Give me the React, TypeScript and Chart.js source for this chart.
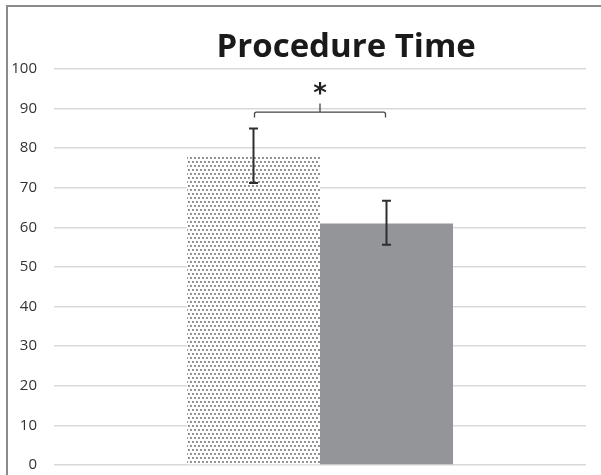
import React, { useEffect, useRef } from "react";
import { Chart, registerables } from "chart.js";

Chart.register(...registerables);

const categories = ["Procedure Time"];
const groupA = [77.9];
const groupB = [61.0];
const errA = [[71.2, 85.0]];
const errB = [[55.6, 66.7]];
const bracketY = 89.1;
const bracketDrop = 88.0;
const bracketTop = 91.3;
const starY = 95.0;
const yTicks = [0, 10, 20, 30, 40, 50, 60, 70, 80, 90, 100];
const titleText = "Procedure Time";

function makePattern(): CanvasPattern | string {
  const c = document.createElement("canvas");
  c.width = 4;
  c.height = 8;
  const g = c.getContext("2d");
  if (!g) return "#ccc";
  g.fillStyle = "#ffffff";
  g.fillRect(0, 0, 4, 8);
  g.fillStyle = "#9a9a9a";
  g.fillRect(0, 1, 2, 2);
  g.fillRect(2, 5, 2, 2);
  g.fillStyle = "#7c7c7c";
  g.fillRect(0, 1, 1, 1);
  g.fillRect(2, 5, 1, 1);
  const p = g.createPattern(c, "repeat");
  return p || "#ccc";
}

const overlay = {
  id: "overlay",
  afterDatasetsDraw(chart: any) {
    const ctx = chart.ctx;
    const y = chart.scales.y;
    const metaA = chart.getDatasetMeta(0);
    const metaB = chart.getDatasetMeta(1);
    const xa = metaA.data[0].x;
    const xb = metaB.data[0].x;
    ctx.save();
    ctx.strokeStyle = "#2f2f2f";
    ctx.lineWidth = 2;
    const drawErr = (x: number, lo: number, hi: number) => {
      const y1 = y.getPixelForValue(lo);
      const y2 = y.getPixelForValue(hi);
      ctx.beginPath();
      ctx.moveTo(x, y1);
      ctx.lineTo(x, y2);
      ctx.moveTo(x - 4.5, y1);
      ctx.lineTo(x + 4.5, y1);
      ctx.moveTo(x - 4.5, y2);
      ctx.lineTo(x + 4.5, y2);
      ctx.stroke();
    };
    drawErr(xa, errA[0][0], errA[0][1]);
    drawErr(xb, errB[0][0], errB[0][1]);
    ctx.strokeStyle = "#444";
    ctx.lineWidth = 1.3;
    const by = y.getPixelForValue(bracketY);
    const bd = y.getPixelForValue(bracketDrop);
    const bt = y.getPixelForValue(bracketTop);
    const mid = (xa + xb) / 2;
    ctx.beginPath();
    ctx.moveTo(xa + 1, bd + 1);
    ctx.lineTo(xa + 1, by + 2);
    ctx.quadraticCurveTo(xa + 1, by, xa + 3, by);
    ctx.lineTo(xb - 3, by);
    ctx.quadraticCurveTo(xb - 1, by, xb - 1, by + 2);
    ctx.lineTo(xb - 1, bd + 1);
    ctx.moveTo(mid, by);
    ctx.lineTo(mid, bt);
    ctx.stroke();
    ctx.fillStyle = "#222";
    ctx.font = "bold 26px 'DejaVu Sans', sans-serif";
    ctx.textAlign = "center";
    ctx.textBaseline = "middle";
    ctx.fillText("*", mid, y.getPixelForValue(starY) + 6);
    ctx.font = "bold 33px 'Open Sans', Lato, sans-serif";
    ctx.fillStyle = "#1a1a1a";
    ctx.textBaseline = "alphabetic";
    ctx.fillText(titleText, chart.width * 0.576, 57);
    ctx.restore();
  },
};

export default function App() {
  const ref = useRef<HTMLCanvasElement>(null);
  useEffect(() => {
    if (!ref.current) return;
    const chart = new Chart(ref.current, {
      type: "bar",
      data: {
        labels: categories,
        datasets: [
          { data: groupA, backgroundColor: makePattern() as any, borderWidth: 0 },
          { data: groupB, backgroundColor: "#939598", borderWidth: 0 },
        ],
      },
      options: {
        animation: false,
        responsive: false,
        maintainAspectRatio: false,
        layout: { padding: { left: 10, right: 15, top: 69, bottom: 10 } },
        datasets: { bar: { categoryPercentage: 0.5, barPercentage: 1 } },
        plugins: { legend: { display: false }, title: { display: false }, tooltip: { enabled: false } },
        scales: {
          x: { display: false },
          y: {
            min: 0,
            max: 100,
            afterBuildTicks: (s: any) => {
              s.ticks = yTicks.map((v) => ({ value: v }));
            },
            afterFit: (s: any) => {
              s.width = 44;
              s.paddingTop = 0;
              s.paddingBottom = 0;
            },
            border: { display: false },
            grid: { color: "#d9d9d9", lineWidth: 1.5, drawTicks: false },
            ticks: {
              padding: 17,
              color: "#333",
              font: { size: 15, family: "'Open Sans', Lato, sans-serif" },
            },
          },
        },
      },
      plugins: [overlay],
    });
    return () => chart.destroy();
  }, []);
  return (
    <div style={{ position: "absolute", left: 0, top: 0, width: 601, height: 475, overflow: "hidden", background: "#fff" }}>
      <div style={{ position: "absolute", left: 6, top: 5, width: 620, height: 500, border: "2px solid #8a8a8a", boxSizing: "border-box" }} />
      <canvas ref={ref} width={601} height={475} style={{ position: "absolute", left: 0, top: 0 }} />
    </div>
  );
}
